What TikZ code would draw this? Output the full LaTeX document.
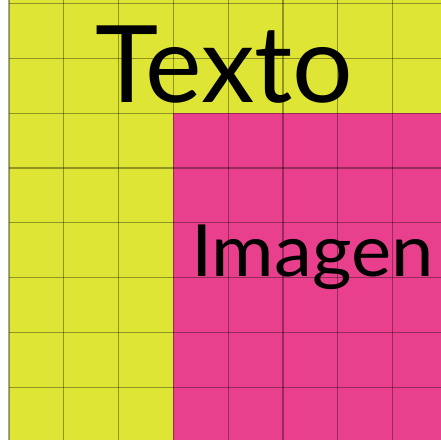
\documentclass[tikz,border=0pt]{standalone}
\usepackage{fontspec}
\setmainfont{Lato}
\definecolor{ylw}{HTML}{DEE535}
\definecolor{pnk}{HTML}{E8408D}
\begin{document}
\begin{tikzpicture}[x=1pt,y=-1pt,
  gridline/.style={draw=black,opacity=0.35,line width=1.2pt},
  bigtext/.style={inner sep=0pt,anchor=base west,text=black}]
\useasboundingbox (0,0) rectangle (441,440);
\fill[white] (0,0) rectangle (441,440);
\fill[ylw] (9,0) rectangle (441,440);
\fill[pnk] (173.4,113.1) rectangle (441,440);
\foreach \k in {0,...,7} {
  \draw[gridline] ({9+54.8*\k},0) -- ({9+54.8*\k},440);
  \draw[gridline] (9,{3.5+54.8*\k}) -- (441,{3.5+54.8*\k});
}
\node[bigtext,font=\fontsize{107}{107}\selectfont] (texto) at (95,102) {Texto};
\node[bigtext,font=\fontsize{72}{72}\selectfont] (imagen) at (191,276) {\scalebox{1.055}[1]{Imagen}};
\end{tikzpicture}
\end{document}
